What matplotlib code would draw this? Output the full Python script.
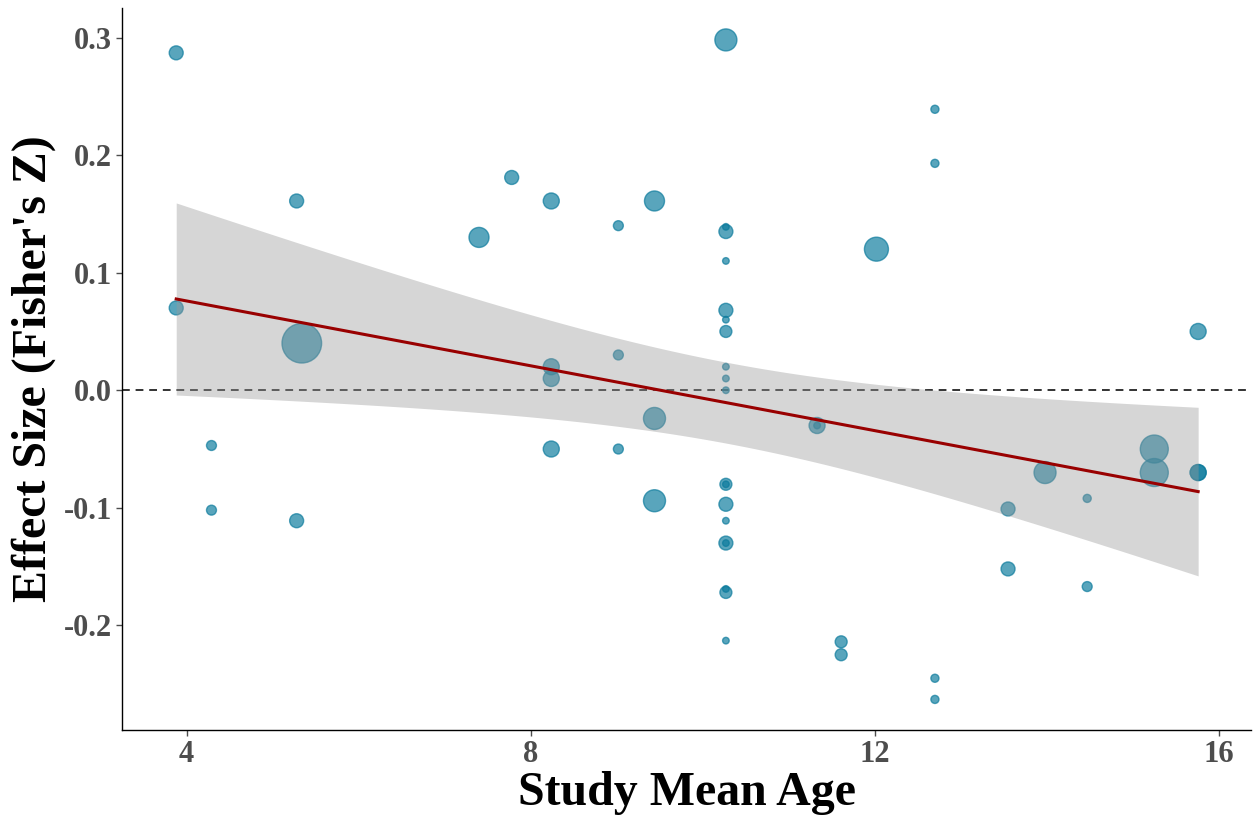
import numpy as np
import matplotlib
matplotlib.use("Agg")
import matplotlib.pyplot as plt

# study mean age, effect size (Fisher's Z), study weight (drives point size)
age = [3.88, 3.88, 4.29, 4.29, 5.28, 5.28, 5.34, 7.40, 7.78,
       8.24, 8.24, 8.24, 8.24, 9.02, 9.02, 9.02, 9.44, 9.44, 9.44,
       10.27, 10.27, 10.27, 10.27, 10.27, 10.27, 10.27, 10.27, 10.27, 10.27,
       10.27, 10.27, 10.27, 10.27, 10.27, 10.27, 10.27, 10.27, 10.27,
       11.33, 11.33, 11.61, 11.61, 12.02, 12.70, 12.70, 12.70, 12.70,
       13.55, 13.55, 13.98, 14.47, 14.47, 15.25, 15.25, 15.76, 15.76, 15.76]
z = [0.287, 0.070, -0.047, -0.102, 0.161, -0.111, 0.040, 0.130, 0.181,
     0.161, 0.020, 0.010, -0.050, 0.140, 0.030, -0.050, 0.161, -0.024, -0.094,
     0.298, 0.139, 0.135, 0.110, 0.068, 0.060, 0.050, 0.020, 0.010, 0.000,
     -0.080, -0.080, -0.097, -0.111, -0.130, -0.130, -0.172, -0.169, -0.213,
     -0.030, -0.030, -0.214, -0.225, 0.120, 0.239, 0.193, -0.245, -0.263,
     -0.101, -0.152, -0.070, -0.092, -0.167, -0.050, -0.070, 0.050, -0.070, -0.070]
weight = [69, 69, 30, 30, 69, 69, 1000, 182, 69,
          100, 100, 100, 100, 30, 30, 30, 182, 234, 234,
          234, 20, 69, 20, 69, 20, 46, 20, 20, 20,
          46, 20, 69, 20, 69, 20, 46, 20, 20,
          100, 20, 46, 46, 292, 22, 22, 22, 22,
          69, 69, 234, 22, 30, 432, 432, 100, 100, 100]

x_ticks = [4, 8, 12, 16]
y_ticks = [-0.2, -0.1, 0.0, 0.1, 0.2, 0.3]

age = np.array(age)
z = np.array(z)
weight = np.array(weight, dtype=float)

# ggplot-like area scale: diameter 1..6 units
t = (weight - weight.min()) / (weight.max() - weight.min())
radius_px = 3.3 * (1 + 5 * np.sqrt(t))
sizes = (2 * radius_px * 0.72) ** 2

# linear fit with 95% CI
n = len(age)
slope, intercept = np.polyfit(age, z, 1)
xs = np.linspace(age.min(), age.max(), 100)
fit = intercept + slope * xs
resid = z - (intercept + slope * age)
sigma = np.sqrt(np.sum(resid ** 2) / (n - 2))
sxx = np.sum((age - age.mean()) ** 2)
se = sigma * np.sqrt(1 / n + (xs - age.mean()) ** 2 / sxx)
t95 = 2.004
lo, hi = fit - t95 * se, fit + t95 * se

plt.rcParams['font.family'] = ['Liberation Serif', 'DejaVu Serif']
plt.rcParams['font.weight'] = 'bold'

fig = plt.figure(figsize=(12.54, 8.18), dpi=100)
ax = fig.add_axes([0.0973, 0.1076, 0.9007, 0.8824])

ax.axhline(0, color='#333333', lw=1.4, ls=(0, (4, 3)), zorder=1)
ax.scatter(age, z, s=sizes, color='#0a7a9c', alpha=0.68, edgecolors='#0a7a9c',
           linewidths=1.0, zorder=2)
ax.fill_between(xs, lo, hi, color='#999999', alpha=0.4, lw=0, zorder=3)
ax.plot(xs, fit, color='#990000', lw=2.2, zorder=4)

ax.set_xlim(3.25, 16.38)
ax.set_ylim(-0.289, 0.325)
ax.set_xticks(x_ticks)
ax.set_xticklabels([str(v) for v in x_ticks])
ax.set_yticks(y_ticks)
ax.set_yticklabels([f"{v:.1f}" for v in y_ticks])
ax.tick_params(labelsize=22, colors='#4d4d4d', length=4, width=1, pad=3)
for lab in ax.get_xticklabels() + ax.get_yticklabels():
    lab.set_fontweight('bold')

for side in ['top', 'right']:
    ax.spines[side].set_visible(False)
for side in ['left', 'bottom']:
    ax.spines[side].set_color('black')
    ax.spines[side].set_linewidth(1.0)

ax.set_xlabel('Study Mean Age', fontsize=34.5, fontweight='bold', labelpad=2)
ax.set_ylabel("Effect Size (Fisher's Z)", fontsize=34.5, fontweight='bold', labelpad=6)

fig.savefig('out.png', dpi=100)
